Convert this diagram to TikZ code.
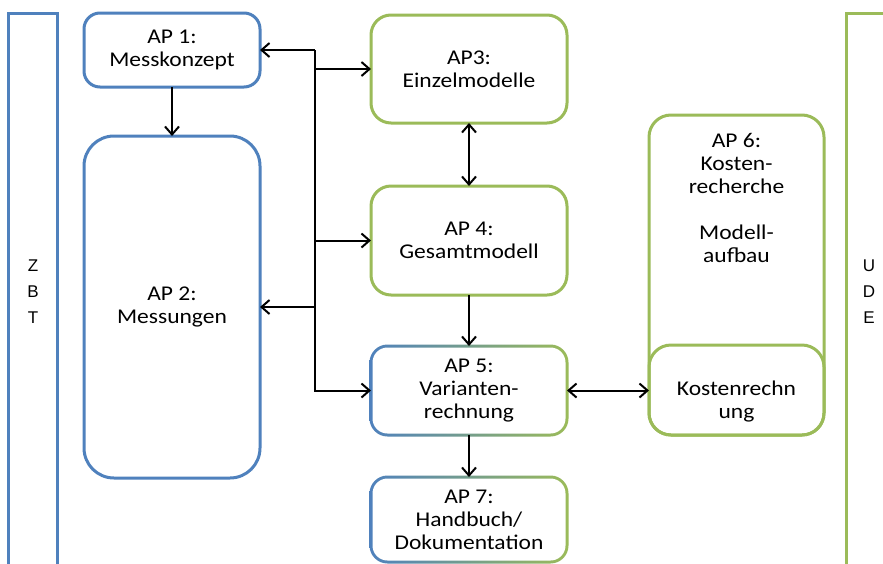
\documentclass[tikz,border=0pt]{standalone}
\usepackage{fontspec}
\setmainfont{Carlito}[FakeStretch=1.12]
\newfontfamily\sidefont{Liberation Sans}
\usetikzlibrary{arrows.meta}
\definecolor{bblue}{HTML}{4F81BD}
\definecolor{bgreen}{HTML}{9BBB59}
\begin{document}
\begin{tikzpicture}[x=1pt,y=-1pt,
  txt/.style={align=center, font=\fontsize{21}{23}\selectfont, inner sep=0pt, outer sep=0pt},
  apbox/.style={txt, draw, line width=3pt, rounded corners=#1},
  blueb/.style={apbox=#1, draw=bblue},
  greenb/.style={apbox=#1, draw=bgreen},
  plainb/.style={txt},
  sidetxt/.style={align=center, inner sep=0pt, font=\sidefont\fontsize{17pt}{26pt}\selectfont},
  conn/.style={line width=2pt, -{Straight Barb[length=8pt,width=14pt]}},
  biconn/.style={line width=2pt, {Straight Barb[length=8pt,width=14pt]}-{Straight Barb[length=8pt,width=14pt]}},
  bar/.style={line width=3pt},
  gradb/.style={left color=bblue, right color=bgreen}
]
\useasboundingbox (0,0) rectangle (883,563);
\clip (0,0) rectangle (883,563);
\fill[white] (0,0) rectangle (883,563);

% side bars
\draw[bar, draw=bblue] (8,13) rectangle (57,600);
\draw[bar, draw=bgreen] (846,13) rectangle (920,600);
\node[sidetxt] (zbt) at (33,292) {Z\\B\\T};
\node[sidetxt] (ude) at (869,292) {U\\D\\E};

% blue boxes
\node[blueb=16pt, minimum width=176pt, minimum height=74pt] (ap1) at (172,50) {AP 1:\\Messkonzept};
\node[blueb=30pt, minimum width=176pt, minimum height=342pt] (ap2) at (172,307) {AP 2:\\Messungen};

% green boxes
\node[greenb=20pt, minimum width=196pt, minimum height=108pt] (ap3) at (469,69) {AP3:\\Einzelmodelle};
\node[greenb=20pt, minimum width=196pt, minimum height=109pt] (ap4) at (469,240.5) {AP 4:\\Gesamtmodell};

% gradient boxes AP5, AP7
\shade[gradb, rounded corners=18pt] (369.5,344.5) rectangle (568.5,436.5);
\fill[white, rounded corners=15pt] (372.5,347.5) rectangle (565.5,433.5);
\node[plainb, minimum width=196pt, minimum height=89pt] (ap5) at (469,390.5) {AP 5:\\Varianten-\\rechnung};

\shade[gradb, rounded corners=18pt] (369.5,475.5) rectangle (568.5,563.5);
\fill[white, rounded corners=15pt] (372.5,478.5) rectangle (565.5,560.5);
\node[plainb, minimum width=196pt, minimum height=85pt] (ap7) at (469,519.5) {AP 7:\\Handbuch/\\Dokumentation};

% AP6
\node[greenb=22pt, minimum width=175pt, minimum height=320pt] (ap6) at (736.5,275) {};
\node[txt] (ap6t) at (736.5,197.5) {AP 6:\\Kosten-\\recherche\\[23pt]Modell-\\aufbau};
\node[greenb=22pt, minimum width=175pt, minimum height=90pt] (kost) at (736.5,390) {};
\node[txt] (kostt) at (736.5,401.5) {Kostenrechn\\ung};

% connectors
\coordinate (tk) at (315,0);
\draw[conn] (ap1.east -| tk) |- (ap5.west);
\draw[conn] (ap1.east -| tk) -- (ap1.east);
\draw[conn] (ap3.west -| tk) -- (ap3.west);
\draw[conn] (ap4.west -| tk) -- (ap4.west);
\draw[conn] (ap2.east -| tk) -- (ap2.east);
\draw[conn] (ap1) -- (ap2);
\draw[biconn] (ap3) -- (ap4);
\draw[conn] (ap4) -- (ap5);
\draw[biconn] (ap5.east) -- (ap5.east -| kost.west);
\draw[conn] (ap5) -- (ap7);
\end{tikzpicture}
\end{document}
